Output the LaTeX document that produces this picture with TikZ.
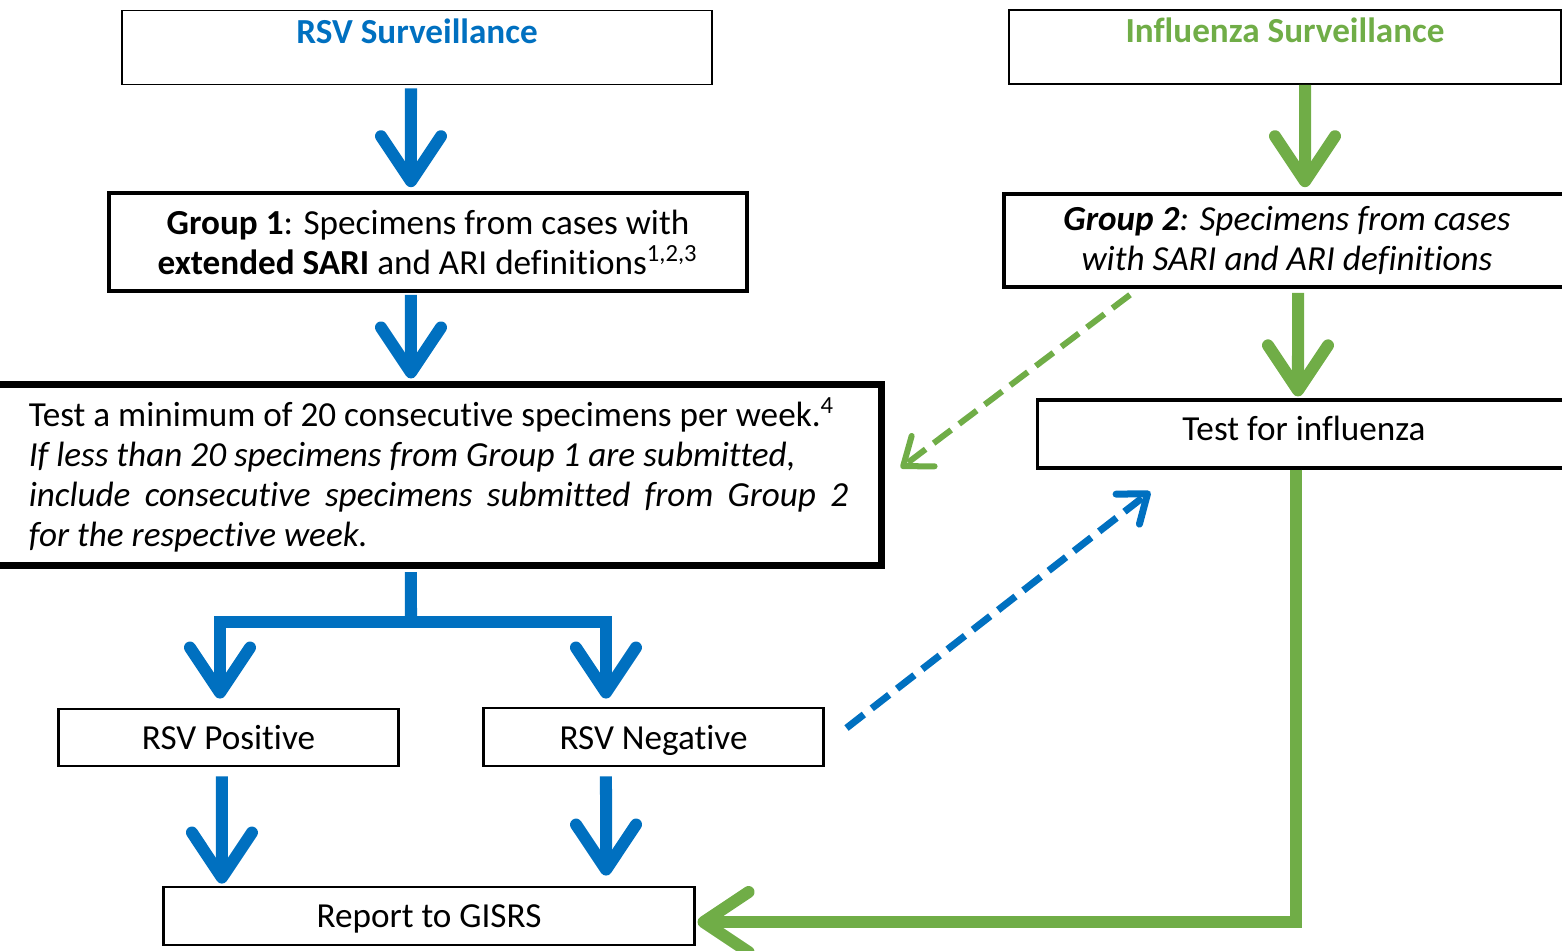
\documentclass[tikz,border=0pt]{standalone}
\usepackage{fontspec}
\setmainfont{Carlito}[Ligatures=CommonOff]
\usetikzlibrary{arrows.meta,calc}
\definecolor{rsvblue}{HTML}{0070C0}
\definecolor{flugreen}{HTML}{70AD47}
\begin{document}
\begin{tikzpicture}[x=0.01cm,y=0.01cm,yscale=-1,font=\fontsize{10}{11.4}\selectfont,
    box/.style={draw,line width=0.8pt,align=flush center,inner sep=0pt},
    headbox/.style={box,line width=0.5pt,minimum height=0.74cm},
    thickarrow/.style={line width=0.12cm,-{Straight Barb[length=0.45cm,width=0.6cm,round]}},
    bluearrow/.style={thickarrow,rsvblue},
    greenarrow/.style={thickarrow,flugreen},
    dasharrow/.style={dash pattern=on 0.22cm off 0.1cm,-{Straight Barb[length=0.25cm,width=0.38cm,round]}}]
    \useasboundingbox (0,0) rectangle (1562,950);
    \node[headbox,minimum width=5.9cm] (rsv) at (417,47.5) {\textbf{\color{rsvblue}RSV Surveillance}\\[-2pt] \mbox{}};
    \node[headbox,minimum width=5.52cm] (flu) at (1285,47) {\textbf{\color{flugreen}Influenza Surveillance}\\[-2pt] \mbox{}};
    \node[box,line width=1pt,minimum width=6.38cm,minimum height=0.98cm] (grpone) at (428,242)
      {\textbf{Group 1}: Specimens from cases with\\ \textbf{extended SARI} and ARI definitions\textsuperscript{1,2,3}};
    \node[box,line width=1pt,minimum width=5.66cm,minimum height=0.93cm] (grptwo) at (1287,240.5)
      {\textit{\textbf{Group 2}: Specimens from cases}\\ \textit{with SARI and ARI definitions}};
    \node[box,line width=2pt,align=flush left,text width=8.19cm,inner xsep=0.33cm,minimum height=1.8cm] (test) at (438.5,475)
      {Test a minimum of 20 consecutive specimens per week.\textsuperscript{4}\\
       \itshape If less than 20 specimens from Group 1 are submitted,\\
       \makebox[8.19cm][l]{include\hfill consecutive\hfill specimens\hfill submitted\hfill from\hfill Group\hfill 2}\\
       for the respective week.};
    \node[box,line width=0.9pt,minimum width=5.32cm,minimum height=0.68cm,text depth=0.12cm] (flutest) at (1304,434) {Test for influenza};
    \node[box,minimum width=3.39cm,minimum height=0.57cm] (pos) at (228.5,737.5) {RSV Positive};
    \node[box,minimum width=3.39cm,minimum height=0.58cm,text depth=0cm] (neg) at (653.5,737) {RSV Negative};
    \node[box,minimum width=5.3cm,minimum height=0.58cm,text depth=0cm] (report) at (429,916) {Report to GISRS};
    \coordinate (fork) at (411,622);
    \draw[bluearrow,shorten <=0.03cm,shorten >=0.04cm] ([xshift=-0.06cm]rsv.south) -- ([xshift=-0.17cm]grpone.north);
    \draw[bluearrow,shorten <=0.02cm,shorten >=0.03cm] ([xshift=-0.17cm]grpone.south) -- ([xshift=-0.275cm]test.north);
    \draw[rsvblue,line width=0.12cm,shorten <=0.035cm] ([xshift=-0.275cm]test.south) -- (fork);
    \draw[bluearrow,shorten >=0.09cm] (fork) -| ([xshift=-0.085cm]pos.north);
    \draw[bluearrow,shorten >=0.08cm] (fork) -| ([xshift=-0.475cm]neg.north);
    \draw[bluearrow,shorten <=0.09cm,shorten >=0.02cm] ([xshift=-0.065cm]pos.south) -- ([xshift=-2.07cm]report.north);
    \draw[bluearrow,shorten <=0.09cm,shorten >=0.1cm] ([xshift=-0.475cm]neg.south) -- ([xshift=1.77cm]report.north);
    \draw[greenarrow,shorten >=0.05cm] ([xshift=0.2cm]flu.south) -- ([xshift=0.18cm]grptwo.north);
    \draw[greenarrow,shorten <=0.04cm,shorten >=0.02cm] ([xshift=0.11cm]grptwo.south) -- ([xshift=-0.06cm]flutest.north);
    \draw[greenarrow,shorten >=0.02cm] ([xshift=-0.08cm]flutest.south) |- ($(report.east)+(0,6)$);
    \draw[flugreen,line width=0.06cm,dasharrow] ($(grptwo.south)+(-157,6)$) -- ($(test.east)+(16,-7)$);
    \draw[rsvblue,line width=0.07cm,dasharrow] ($(neg.east)+(22,-9)$) -- ($(flutest.south west)+(114,22)$);
\end{tikzpicture}
\end{document}
